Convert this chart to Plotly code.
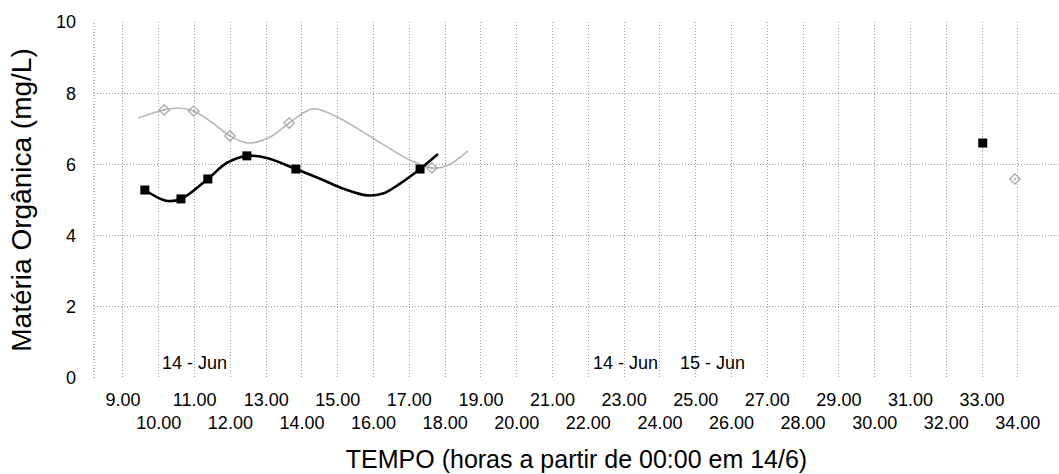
import plotly.graph_objects as go

# Sampled organic matter (mg/L) vs. time (hours from 00:00 on 14/6)
serie_a_t = [9.61, 10.62, 11.37, 12.46, 13.83, 17.30, 33.02]
serie_a_v = [5.28, 5.03, 5.59, 6.24, 5.87, 5.87, 6.60]

serie_b_t = [10.15, 10.98, 11.99, 13.64, 17.63, 33.92]
serie_b_v = [7.53, 7.50, 6.80, 7.16, 5.90, 5.59]

# Smoothed curves through the first-day samples
curva_a_t = [9.61, 10.20, 10.62, 11.37, 11.90, 12.46, 13.02, 13.83, 14.59, 15.15, 15.82, 16.26, 16.74, 17.30, 17.80]
curva_a_v = [5.28, 4.98, 5.03, 5.59, 6.04, 6.24, 6.18, 5.87, 5.56, 5.32, 5.13, 5.18, 5.46, 5.87, 6.29]

curva_b_t = [9.42, 10.15, 10.59, 10.98, 11.51, 11.99, 12.49, 13.11, 13.64, 14.31, 14.98, 15.98, 17.02, 17.63, 18.05, 18.64]
curva_b_v = [7.30, 7.53, 7.58, 7.50, 7.16, 6.80, 6.60, 6.77, 7.16, 7.56, 7.33, 6.74, 6.12, 5.90, 5.96, 6.38]

# Axis ticks
horas = list(range(9, 35))
rotulos_x = [f"{h}.00" if (h - 9) % 2 == 0 else f"<br>{h}.00" for h in horas]
y_ticks = [0, 2, 4, 6, 8, 10]

# Date markers written inside the plot
datas_txt = ["14 - Jun", "14 - Jun", "15 - Jun"]
datas_t = [11.0, 23.05, 25.48]
datas_v = [0.42, 0.42, 0.42]

FONTE = "Liberation Sans, Arial, sans-serif"
GRADE = "#9c9c9c"
PONTILHADO = "1px,2px"

fig = go.Figure()

fig.add_trace(go.Scatter(
    x=curva_b_t, y=curva_b_v, mode="lines",
    line=dict(color="#b4b4b4", width=1.5, shape="spline", smoothing=1.0),
    hoverinfo="skip", showlegend=False))
fig.add_trace(go.Scatter(
    x=serie_b_t, y=serie_b_v, mode="markers",
    marker=dict(symbol="diamond-open-dot", size=8, color="#a8a8a8",
                line=dict(color="#a8a8a8", width=1.3)),
    showlegend=False))

fig.add_trace(go.Scatter(
    x=curva_a_t, y=curva_a_v, mode="lines",
    line=dict(color="#000000", width=2.6, shape="spline", smoothing=1.0),
    hoverinfo="skip", showlegend=False))
fig.add_trace(go.Scatter(
    x=serie_a_t, y=serie_a_v, mode="markers",
    marker=dict(symbol="square", size=9, color="#000000"),
    showlegend=False))

for txt, t, v in zip(datas_txt, datas_t, datas_v):
    fig.add_annotation(x=t, y=v, text=txt, showarrow=False,
                       font=dict(family=FONTE, size=18, color="#000"),
                       xanchor="center", yanchor="middle")

# Dotted frame on the left edge
fig.add_shape(type="line", xref="paper", yref="paper", x0=0, x1=0, y0=0, y1=1,
              line=dict(color="#808080", width=1, dash=PONTILHADO))

fig.update_layout(
    width=1059, height=474,
    margin=dict(l=94, r=0, t=22, b=96),
    paper_bgcolor="white", plot_bgcolor="white",
    font=dict(family=FONTE, color="#000"),
    xaxis=dict(
        range=[8.19, 35.15],
        tickmode="array", tickvals=horas, ticktext=rotulos_x,
        tickfont=dict(size=18), tickangle=0, ticklabelstandoff=9,
        showgrid=True, gridcolor=GRADE, griddash=PONTILHADO, gridwidth=1,
        zeroline=False, showline=False, ticks="",
        title=dict(text="TEMPO (horas a partir de 00:00 em 14/6)",
                   font=dict(size=25), standoff=18),
    ),
    yaxis=dict(
        range=[0, 10],
        tickmode="array", tickvals=y_ticks,
        tickfont=dict(size=18),
        showgrid=True, gridcolor=GRADE, griddash=PONTILHADO, gridwidth=1,
        zeroline=False, showline=False, ticks="", ticklabelstandoff=17,
        title=dict(text="Matéria Orgânica (mg/L)", font=dict(size=28), standoff=16),
    ),
)

fig.write_html("out.html")
